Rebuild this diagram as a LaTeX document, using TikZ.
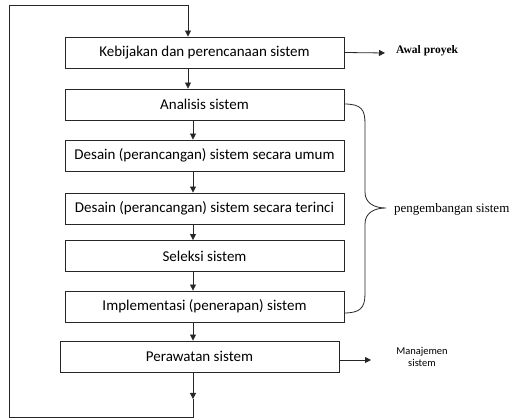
\documentclass[tikz,border=0pt]{standalone}
\usepackage{fontspec}
\setmainfont{Carlito}
\newfontfamily\serifnote{Liberation Serif}
\usetikzlibrary{arrows.meta}
\tikzset{
  stagebox/.style={draw=black!85, line width=0.9pt, rectangle, inner sep=0pt,
    minimum width=279pt, minimum height=31pt, font=\fontsize{15}{17}\selectfont},
  link/.style={draw=black!85, line width=0.8pt},
  arr/.style={link, -{Triangle[length=6pt, width=6pt]}},
  notelab/.style={anchor=west, inner sep=0pt},
}
\begin{document}
\begin{tikzpicture}[x=1pt, y=-1pt]
\useasboundingbox (0,0) rectangle (515,419);

% process stages
\node[stagebox] (s1) at (204.5,52.5) {Kebijakan dan perencanaan sistem};
\node[stagebox] (s2) at (204.5,104.5)  {Analisis sistem};
\node[stagebox] (s3) at (204.5,155.5) {Desain (perancangan) sistem secara umum};
\node[stagebox] (s4) at (204.5,208.5) {Desain (perancangan) sistem secara terinci};
\node[stagebox] (s5) at (204.5,256)  {Seleksi sistem};
\node[stagebox] (s6) at (204.5,306.5) {Implementasi (penerapan) sistem};
\node[stagebox] (s7) at (199.5,356.5) {Perawatan sistem};

% arrows between stages
\draw[arr] (s1.south -| 188,0) -- (s2.north -| 188,0);
\draw[arr] (s2.south -| 193,0) -- (s3.north -| 193,0);
\draw[arr] (s3.south -| 193,0) -- (s4.north -| 193,0);
\draw[arr] (s4.south -| 193,0) -- (s5.north -| 193,0);
\draw[arr] (s5.south -| 193,0) -- (s6.north -| 193,0);
\draw[arr] (s6.south -| 193,0) -- (s7.north -| 193,0);

% feedback loop back to the first stage
\coordinate (m) at (193,399);
\coordinate (b1) at (193,417);
\coordinate (b2) at (9,417);
\coordinate (t1) at (9,5);
\coordinate (t2) at (188,5);
\draw[arr] (s7.south -| m) -- (m);
\draw[link] (m) -- (b1) -- (b2) -- (t1) -- (t2);
\draw[arr] (t2) -- (s1.north -| t2);

% side notes
\node[notelab, font=\serifnote\bfseries\fontsize{11.5}{13}\selectfont] (awal) at (396,51) {Awal proyek};
\draw[arr] (s1.east) -- (385,53);

\node[notelab, font=\serifnote\fontsize{13}{15}\selectfont] (dev) at (394,209) {pengembangan sistem};
\draw[link] (344,104) .. controls (362,104) and (365,110) .. (365,124)
  -- (365,192) .. controls (365,203) and (374,208) .. (386,208)
  .. controls (374,208) and (365,213) .. (365,224)
  -- (365,294) .. controls (365,308) and (360,313) .. (344,313);

\node[font=\fontsize{10.5}{12}\selectfont, align=center] (mgmt) at (422,357) {Manajemen\\sistem};
\draw[arr] (s7.east |- 0,360) -- (371,360);
\end{tikzpicture}
\end{document}
